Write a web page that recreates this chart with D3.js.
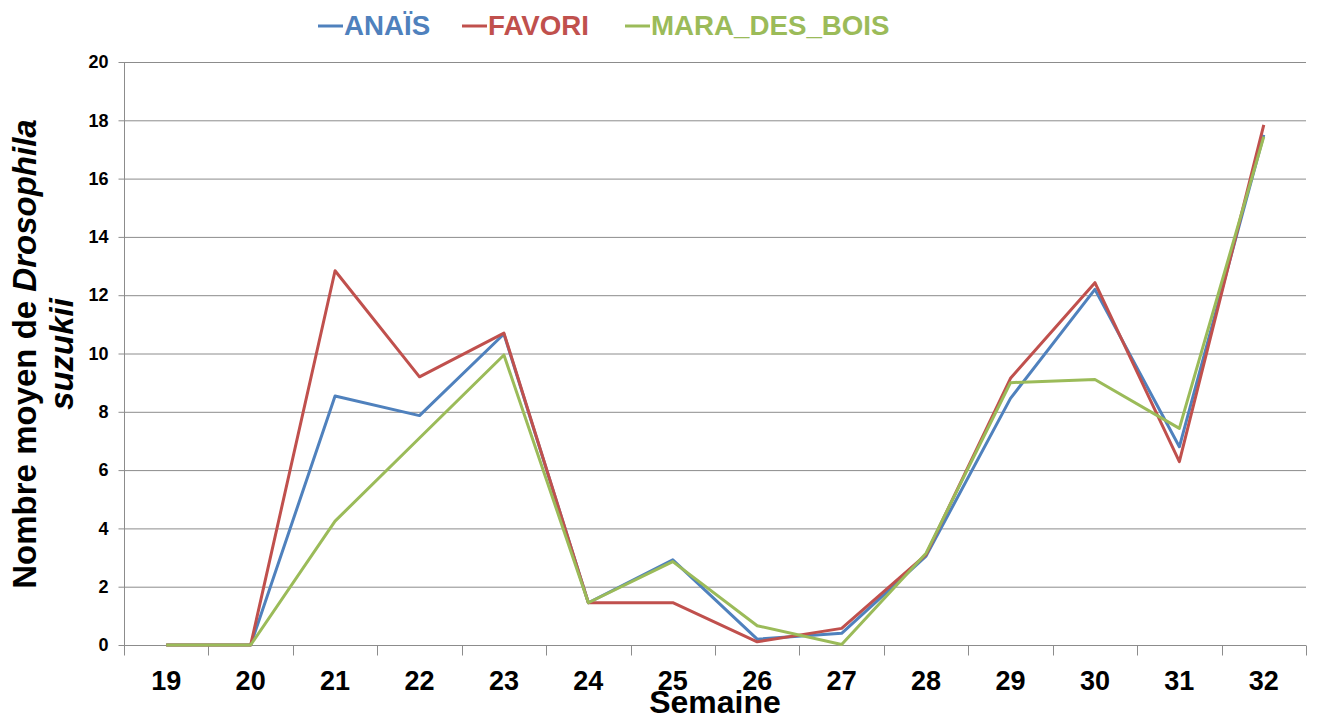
<!DOCTYPE html>
<html>
<head>
<meta charset="utf-8">
<script src="https://cdn.jsdelivr.net/npm/d3@7/dist/d3.min.js"></script>
<style>
  html, body { margin: 0; padding: 0; background: #fff; }
  svg { display: block; font-family: "Liberation Sans", Arial, sans-serif; }
</style>
</head>
<body>
<svg id="chart" width="1317" height="720"></svg>
<script>
// Weekly mean counts of Drosophila suzukii per strawberry variety
const weeks = ["19", "20", "21", "22", "23", "24", "25", "26", "27", "28", "29", "30", "31", "32"];
const anais = [0, 0, 8.54, 7.87, 10.67, 1.45, 2.92, 0.2, 0.4, 3.05, 8.46, 12.2, 6.8, 17.5];
const favori = [0, 0, 12.84, 9.2, 10.7, 1.45, 1.45, 0.11, 0.57, 3.1, 9.15, 12.43, 6.29, 17.84];
const maraDesBois = [0, 0, 4.25, 7.1, 9.95, 1.45, 2.86, 0.66, 0.02, 3.15, 9.0, 9.11, 7.43, 17.44];
const yTicks = [0, 2, 4, 6, 8, 10, 12, 14, 16, 18, 20];

const series = [
  { name: "ANAÏS", values: anais, color: "#4F81BD" },
  { name: "FAVORI", values: favori, color: "#C0504D" },
  { name: "MARA_DES_BOIS", values: maraDesBois, color: "#9BBB59" }
];

const svg = d3.select("#chart");
const plotLeft = 124, plotRight = 1306, plotTop = 62, plotBottom = 645;
const gridColor = "#8c8c8c";

const x = d3.scaleBand().domain(weeks).range([plotLeft, plotRight]);
const y = d3.scaleLinear().domain([0, 20]).range([plotBottom, plotTop]);

// Horizontal gridlines
svg.append("g")
  .selectAll("line")
  .data(yTicks.filter(t => t > 0))
  .join("line")
  .attr("x1", plotLeft).attr("x2", plotRight)
  .attr("y1", d => y(d) + 0.5).attr("y2", d => y(d) + 0.5)
  .attr("stroke", gridColor).attr("stroke-width", 1);

// Y axis
const yAxis = svg.append("g")
  .attr("transform", `translate(${plotLeft + 0.5},0)`)
  .call(d3.axisLeft(y).tickValues(yTicks).tickSize(6).tickPadding(10).tickFormat(d3.format("d")));
yAxis.select(".domain").attr("stroke", gridColor).attr("d", `M0,${plotTop}V${plotBottom}`);
yAxis.selectAll(".tick line").attr("stroke", gridColor);
yAxis.selectAll(".tick text")
  .attr("font-size", 18).attr("font-weight", "bold").attr("fill", "#000")
  .attr("font-family", "Liberation Sans, Arial, sans-serif");

// X axis: ticks sit on band boundaries
const xAxisG = svg.append("g").attr("transform", `translate(0,${plotBottom + 0.5})`);
xAxisG.append("line")
  .attr("x1", plotLeft).attr("x2", plotRight)
  .attr("stroke", gridColor).attr("stroke-width", 1);
const boundaries = weeks.map(w => x(w)).concat([plotRight]);
xAxisG.selectAll("line.tick")
  .data(boundaries)
  .join("line")
  .attr("class", "tick")
  .attr("x1", d => Math.round(d) + 0.5).attr("x2", d => Math.round(d) + 0.5)
  .attr("y1", 0).attr("y2", 10)
  .attr("stroke", gridColor);
xAxisG.selectAll("text")
  .data(weeks)
  .join("text")
  .attr("x", d => x(d) + x.bandwidth() / 2)
  .attr("y", 44)
  .attr("text-anchor", "middle")
  .attr("font-size", 27).attr("font-weight", "bold").attr("fill", "#000")
  .text(d => d);

// Series lines
const line = d3.line()
  .x((d, i) => x(weeks[i]) + x.bandwidth() / 2)
  .y(d => y(d));

svg.append("g")
  .selectAll("path")
  .data(series)
  .join("path")
  .attr("d", d => line(d.values))
  .attr("fill", "none")
  .attr("stroke", d => d.color)
  .attr("stroke-width", 3)
  .attr("stroke-linejoin", "round");

// Legend
const legendX = [318, 462, 625];
const lg = svg.append("g");
series.forEach((s, i) => {
  const g = lg.append("g").attr("transform", `translate(${legendX[i]},0)`);
  g.append("line")
    .attr("x1", 0).attr("x2", 25)
    .attr("y1", 26).attr("y2", 26)
    .attr("stroke", s.color).attr("stroke-width", 3);
  g.append("text")
    .attr("x", 26).attr("y", 35)
    .attr("font-size", 27.7).attr("font-weight", "bold")
    .attr("fill", s.color)
    .text(s.name);
});

// Axis titles
svg.append("text")
  .attr("x", 715).attr("y", 713)
  .attr("text-anchor", "middle")
  .attr("font-size", 32).attr("font-weight", "bold").attr("fill", "#000")
  .text("Semaine");

const yTitle = svg.append("text")
  .attr("transform", "translate(0,354) rotate(-90)")
  .attr("text-anchor", "middle")
  .attr("font-size", 33).attr("font-weight", "bold").attr("fill", "#000");
yTitle.append("tspan").attr("x", 0).attr("y", 36).text("Nombre moyen de ");
yTitle.append("tspan").attr("font-style", "italic").text("Drosophila");
yTitle.append("tspan").attr("x", 0).attr("y", 73).attr("font-style", "italic").text("suzukii");
</script>
</body>
</html>
